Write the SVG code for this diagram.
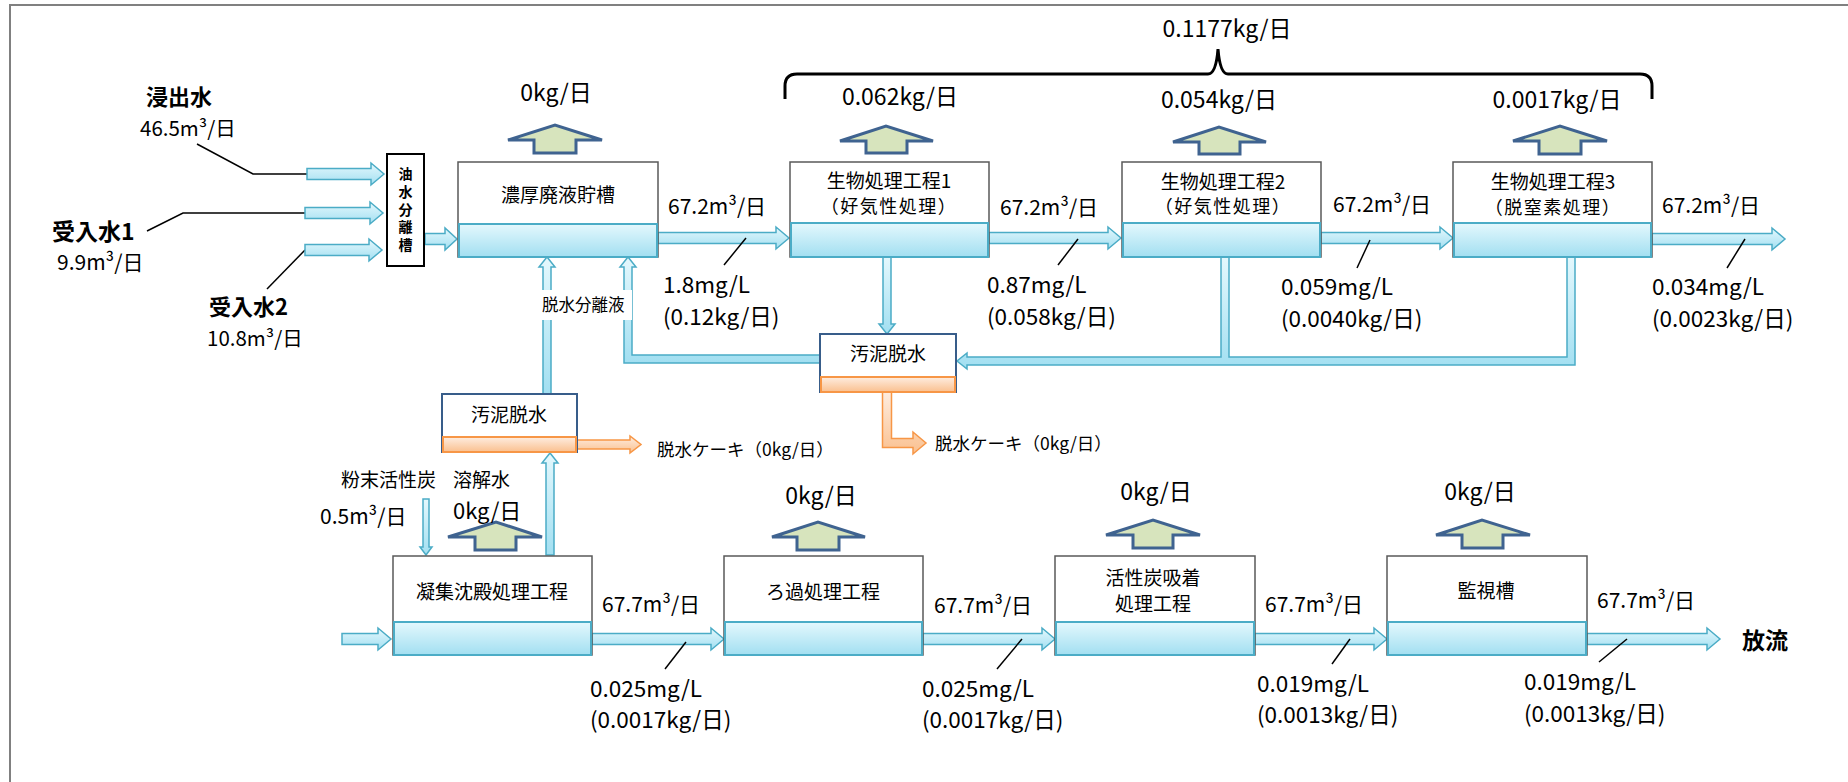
<svg xmlns="http://www.w3.org/2000/svg" width="1848" height="782" viewBox="0 0 1848 782">
<defs>
<linearGradient id="gBlue" x1="0" y1="0" x2="0" y2="1">
<stop offset="0" stop-color="#E4F8FD"/><stop offset="1" stop-color="#A2DFF1"/>
</linearGradient>
<linearGradient id="gOrange" x1="0" y1="0" x2="0" y2="1">
<stop offset="0" stop-color="#FEEDE0"/><stop offset="1" stop-color="#FAC08F"/>
</linearGradient>
<style>
.box{fill:#fff;stroke:#595959;stroke-width:1.5}
.sbox{fill:#fff;stroke:#385D8A;stroke-width:2}
.obox{fill:#fff;stroke:#000;stroke-width:2}
.band{fill:url(#gBlue);stroke:#4BACC6;stroke-width:2}
.oband{fill:url(#gOrange);stroke:#F79646;stroke-width:2}
.arr{fill:url(#gBlue);stroke:#4BACC6;stroke-width:1.5;stroke-linejoin:miter}
.oarr{fill:url(#gOrange);stroke:#F79646;stroke-width:1.5}
.up{fill:#D7E4BD;stroke:#3F6390;stroke-width:3;stroke-linejoin:miter}
.lead{stroke:#000;stroke-width:1.5;fill:none}
.brace{stroke:#000;stroke-width:3;fill:none}
.frame{stroke:#808080;stroke-width:2;fill:none}
text{font-family:"Noto Sans CJK JP","Noto Sans CJK SC",sans-serif;fill:#000}
.lbl{font-size:19px}
.sub{font-size:18px;letter-spacing:1.5px}
.num{font-size:21px}
.inum{font-size:20.5px}
.val{font-size:22.5px}
.big{font-size:23px}
.ibig{font-size:22px}
.sm{font-size:17.5px}
.vt{font-size:14px;font-weight:bold;writing-mode:vertical-rl;letter-spacing:3.6px}
.b{font-weight:bold}
.mid{text-anchor:middle}
</style>
</defs>
<rect x="0" y="0" width="1848" height="782" fill="#fff"/>
<path class="frame" d="M10,782 V5 H1848"/>

<g id="connectors">
<path class="lead" d="M197,144 L253,174 H307"/>
<path class="lead" d="M147,231 L183,213 H305"/>
<path class="lead" d="M267,289 L305,250"/>
<path class="arr" d="M307,168.5 H371 V163 L384,174 L371,185 V179.5 H307 Z"/>
<path class="arr" d="M305,207.5 H370 V202 L383,213 L370,224 V218.5 H305 Z"/>
<path class="arr" d="M305,244.5 H369 V239 L382,250 L369,261 V255.5 H305 Z"/>
<path class="arr" d="M425,233.5 H445 V228 L457,239 L445,250 V244.5 H425 Z"/>
<path class="arr" d="M658,232.5 H776 V227 L789,238 L776,249 V243.5 H658 Z"/>
<path class="arr" d="M989,232.5 H1108 V227 L1121,238 L1108,249 V243.5 H989 Z"/>
<path class="arr" d="M1321,232.5 H1440 V227 L1453,238 L1440,249 V243.5 H1321 Z"/>
<path class="arr" d="M1652,233.5 H1772 V228 L1785,239 L1772,250 V244.5 H1652 Z"/>
<path class="arr" d="M342,633.5 H378 V628 L391,639 L378,650 V644.5 H342 Z"/>
<path class="arr" d="M592,633.5 H711 V628 L724,639 L711,650 V644.5 H592 Z"/>
<path class="arr" d="M923,633.5 H1042 V628 L1055,639 L1042,650 V644.5 H923 Z"/>
<path class="arr" d="M1255,633.5 H1374 V628 L1387,639 L1374,650 V644.5 H1255 Z"/>
<path class="arr" d="M1587,633.5 H1707 V628 L1720,639 L1707,650 V644.5 H1587 Z"/>
<path class="arr" d="M543,394 V267 H539 L547,257 L555,267 H551 V394 Z"/>
<path class="arr" d="M546,555 V463 H542 L550,453 L558,463 H554 V555 Z"/>
<path class="arr" d="M820,355 H632 V267 H636 L628,257 L620,267 H624 V363 H820 Z"/>
<path class="arr" d="M883,257 H891 V324 H895 L887,334 L879,324 H883 Z"/>
<path class="arr" d="M1567,257 H1575 V365 H967 V369 L957,361 L967,353 V357 H1221 V257 H1229 V357 H1567 Z"/>
<path class="arr" d="M423,499 H429 V547 H432 L426,555 L420,547 H423 Z"/>
<path class="oarr" d="M882.5,392 H891.5 V438.5 H913 V432 L926,443 L913,454 V447.5 H882.5 Z"/>
<path class="oarr" d="M577,440 H630 V436 L641,444.5 L630,453 V449 H577 Z"/>
<rect x="538" y="290" width="94" height="30" fill="#fff"/>
<path class="lead" d="M746,238 L724,265"/>
<path class="lead" d="M1078,239 L1058,265"/>
<path class="lead" d="M1370,240 L1357,268"/>
<path class="lead" d="M1745,239 L1727,268"/>
<path class="lead" d="M686,642 L665,669"/>
<path class="lead" d="M1022,639 L997,669"/>
<path class="lead" d="M1350,639 L1332,664"/>
<path class="lead" d="M1627,639 L1599,662"/>
<path class="up" d="M508,140 L555,125 L602,140 H576 V153 H534 V140 Z"/>
<path class="up" d="M840,141 L886,126 L933,141 H907 V153 H866 V141 Z"/>
<path class="up" d="M1173,142 L1219,127 L1266,142 H1240 V154 H1199 V142 Z"/>
<path class="up" d="M1513,141 L1560,126 L1607,141 H1581 V154 H1539 V141 Z"/>
<path class="up" d="M448,537 L496,522 L542,537 H516 V550 H475 V537 Z"/>
<path class="up" d="M772,537 L818,522 L865,537 H839 V550 H797 V537 Z"/>
<path class="up" d="M1106,535 L1153,520 L1200,535 H1173 V548 H1133 V535 Z"/>
<path class="up" d="M1436,535 L1482,520 L1530,535 H1503 V548 H1462 V535 Z"/>
<path class="brace" d="M785,99 V86 Q785,74 797,74 H1208 Q1216,74 1218,49 Q1220,74 1228,74 H1640 Q1652,74 1652,86 V99"/>
</g>

<g id="inputs">
<text class="ibig b" x="146" y="105">浸出水</text>
<text class="inum" x="140" y="136">46.5m³/日</text>
<text class="big b" x="52" y="240">受入水1</text>
<text class="num" x="57" y="270">9.9m³/日</text>
<text class="ibig b" x="209" y="315">受入水2</text>
<text class="inum" x="207" y="346">10.8m³/日</text>
</g>

<g id="n-oil">
<rect class="obox" x="387" y="154" width="37" height="112"/>
<text class="vt mid" x="405.5" y="211">油水分離槽</text>
</g>

<g id="n-concentrate">
<rect class="box" x="458" y="162" width="200" height="95"/>
<rect class="band" x="459" y="224" width="198" height="33"/>
<text class="lbl mid" x="558" y="202">濃厚廃液貯槽</text>
<text class="big mid" x="556" y="101">0kg/日</text>
</g>

<g id="n-bio1">
<rect class="box" x="790" y="162" width="199" height="95"/>
<rect class="band" x="791" y="223" width="197" height="34"/>
<text class="lbl mid" x="889" y="188">生物処理工程1</text>
<text class="sub mid" x="889" y="213">（好気性処理）</text>
<text class="big mid" x="900" y="105">0.062kg/日</text>
</g>

<g id="n-bio2">
<rect class="box" x="1122" y="162" width="199" height="95"/>
<rect class="band" x="1123" y="223" width="197" height="34"/>
<text class="lbl mid" x="1223" y="189">生物処理工程2</text>
<text class="sub mid" x="1223" y="213">（好気性処理）</text>
<text class="big mid" x="1219" y="108">0.054kg/日</text>
</g>

<g id="n-bio3">
<rect class="box" x="1453" y="162" width="199" height="95"/>
<rect class="band" x="1454" y="223" width="197" height="34"/>
<text class="lbl mid" x="1553" y="189">生物処理工程3</text>
<text class="sub mid" x="1553" y="214">（脱窒素処理）</text>
<text class="big mid" x="1557" y="108">0.0017kg/日</text>
</g>

<g id="total">
<text class="big mid" x="1227" y="37">0.1177kg/日</text>
</g>

<g id="n-sludge1">
<rect class="sbox" x="820" y="334" width="136" height="58"/>
<rect class="oband" x="821" y="377" width="134" height="15"/>
<text class="lbl mid" x="888" y="361">汚泥脱水</text>
<text class="sm" x="935" y="450">脱水ケーキ（0kg/日）</text>
</g>

<g id="n-sludge2">
<rect class="sbox" x="442" y="394" width="135" height="58"/>
<rect class="oband" x="443" y="437" width="133" height="15"/>
<text class="lbl mid" x="509" y="422">汚泥脱水</text>
<text class="sm" x="657" y="456">脱水ケーキ（0kg/日）</text>
<text class="sm" x="542" y="311" fill="#333" style="font-size:16.5px">脱水分離液</text>
</g>

<g id="flow-labels-top">
<text class="num" x="668" y="214">67.2m³/日</text>
<text class="val" x="663" y="293">1.8mg/L</text>
<text class="val" x="663" y="325">(0.12kg/日)</text>
<text class="num" x="1000" y="215">67.2m³/日</text>
<text class="val" x="987" y="293">0.87mg/L</text>
<text class="val" x="987" y="325">(0.058kg/日)</text>
<text class="num" x="1333" y="212">67.2m³/日</text>
<text class="val" x="1281" y="295">0.059mg/L</text>
<text class="val" x="1281" y="327">(0.0040kg/日)</text>
<text class="num" x="1662" y="213">67.2m³/日</text>
<text class="val" x="1652" y="295">0.034mg/L</text>
<text class="val" x="1652" y="327">(0.0023kg/日)</text>
</g>

<g id="n-coag">
<rect class="box" x="393" y="556" width="199" height="99"/>
<rect class="band" x="394" y="622" width="197" height="33"/>
<text class="lbl mid" x="492" y="599">凝集沈殿処理工程</text>
<text class="lbl" x="341" y="487">粉末活性炭</text>
<text class="lbl" x="453" y="487">溶解水</text>
<text class="num" x="320" y="524">0.5m³/日</text>
<text class="ibig" x="453" y="519">0kg/日</text>
</g>

<g id="n-filter">
<rect class="box" x="724" y="556" width="199" height="99"/>
<rect class="band" x="725" y="622" width="197" height="33"/>
<text class="lbl mid" x="823" y="599">ろ過処理工程</text>
<text class="big mid" x="821" y="504">0kg/日</text>
</g>

<g id="n-carbon">
<rect class="box" x="1055" y="556" width="200" height="99"/>
<rect class="band" x="1056" y="622" width="198" height="33"/>
<text class="lbl mid" x="1153" y="585">活性炭吸着</text>
<text class="lbl mid" x="1153" y="611">処理工程</text>
<text class="big mid" x="1156" y="500">0kg/日</text>
</g>

<g id="n-monitor">
<rect class="box" x="1387" y="556" width="200" height="99"/>
<rect class="band" x="1388" y="622" width="198" height="33"/>
<text class="lbl mid" x="1486" y="598">監視槽</text>
<text class="big mid" x="1480" y="500">0kg/日</text>
<text class="big b" x="1742" y="649">放流</text>
</g>

<g id="flow-labels-bottom">
<text class="num" x="602" y="612">67.7m³/日</text>
<text class="val" x="590" y="697">0.025mg/L</text>
<text class="val" x="590" y="728">(0.0017kg/日)</text>
<text class="num" x="934" y="613">67.7m³/日</text>
<text class="val" x="922" y="697">0.025mg/L</text>
<text class="val" x="922" y="728">(0.0017kg/日)</text>
<text class="num" x="1265" y="612">67.7m³/日</text>
<text class="val" x="1257" y="692">0.019mg/L</text>
<text class="val" x="1257" y="723">(0.0013kg/日)</text>
<text class="num" x="1597" y="608">67.7m³/日</text>
<text class="val" x="1524" y="690">0.019mg/L</text>
<text class="val" x="1524" y="722">(0.0013kg/日)</text>
</g>
</svg>
